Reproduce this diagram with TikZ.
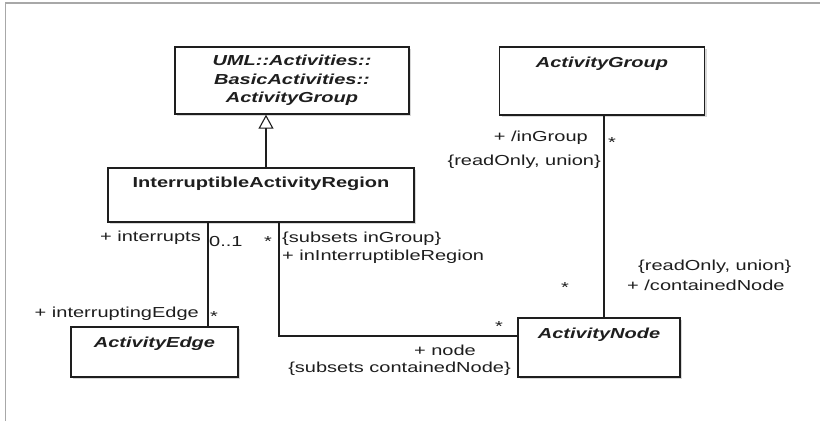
\documentclass[tikz,border=0pt]{standalone}
\usepackage{fontspec}
\setmainfont{Liberation Sans}[FakeStretch=1.38]
\usepackage{xcolor,tikz}
\usetikzlibrary{arrows.meta,shadows}
\definecolor{ink}{HTML}{1E1E1E}
\definecolor{frame}{HTML}{A8A8A8}

\begin{document}
\begin{tikzpicture}[x=1pt,y=-1pt,
 cls/.style={draw=ink,line width=1.4pt,fill=white,inner xsep=3pt,inner ysep=5pt,
  font=\fontsize{14.5}{18.5}\selectfont\bfseries\itshape,text=ink,
  drop shadow={shadow xshift=2pt,shadow yshift=-2pt,fill=black!30}},
 ln/.style={draw=ink,line width=1.1pt},
 gen/.style={ln,-{Triangle[open,length=14pt,width=15pt,line width=1.1pt]}},
 lbl/.style={font=\fontsize{14.5}{18}\selectfont,text=ink,inner sep=1pt}]
 \useasboundingbox (0,0) rectangle (820,421);
 \fill[white] (0,0) rectangle (820,421);
 \draw[frame,line width=1.6pt] (5.5,421) -- (5.5,2.8) -- (820,2.8);
 % classes
 \node[cls,minimum width=234pt,minimum height=67pt,align=center] (uml) at (292,80.5)
  {UML::Activities::\\BasicActivities::\\ActivityGroup};
 \node[cls,minimum width=205pt,text height=15pt,text depth=43pt] (grp) at (602,81) {ActivityGroup};
 \node[cls,minimum width=306pt,text height=14pt,text depth=30pt,font=\fontsize{14.5}{18.5}\selectfont\bfseries]
  (iar) at (261,195) {InterruptibleActivityRegion};
 \node[cls,minimum width=167pt,text height=15pt,text depth=25pt] (edge) at (154.5,352) {ActivityEdge};
 \node[cls,minimum width=162pt,text height=15pt,text depth=34pt] (node) at (599,347.5) {ActivityNode};
 % connectors
 \coordinate (g) at (266,0);
 \coordinate (ie) at (208,0);
 \coordinate (rn) at (279,336);
 \coordinate (gn) at (604,0);
 \draw[gen] (iar.north -| g) -- (uml.south -| g);
 \draw[ln] (iar.south -| ie) -- (edge.north -| ie);
 \draw[ln] (iar.south -| rn) -- (rn) -- (rn -| node.west);
 \draw[ln] (grp.south -| gn) -- (node.north -| gn);
 % ends
 \node[lbl,anchor=east] (l1) at (202,238) {+ interrupts};
 \node[lbl,anchor=west] (l2) at (208,242) {0..1};
 \node[lbl,anchor=east] (l3) at (273,242) {*};
 \node[lbl,anchor=north west,align=left] (l4) at (281,231) {\{subsets inGroup\}\\+ inInterruptibleRegion};
 \node[lbl,anchor=east] (l5) at (200,314) {+ interruptingEdge};
 \node[lbl,anchor=west] (l6) at (209,317) {*};
 \node[lbl] (l7) at (499,327) {*};
 \node[lbl] (l8) at (445,350) {+ node};
 \node[lbl,anchor=east] (l9) at (512,369) {\{subsets containedNode\}};
 \node[lbl,anchor=east] (l10) at (589,138) {+ /inGroup};
 \node[lbl,anchor=east] (l11) at (602,162) {\{readOnly, union\}};
 \node[lbl,anchor=west] (l12) at (607,143) {*};
 \node[lbl] (l13) at (565,288) {*};
 \node[lbl,anchor=west] (l14) at (637,267) {\{readOnly, union\}};
 \node[lbl,anchor=west] (l15) at (626,285) {+ /containedNode};
\end{tikzpicture}
\end{document}
